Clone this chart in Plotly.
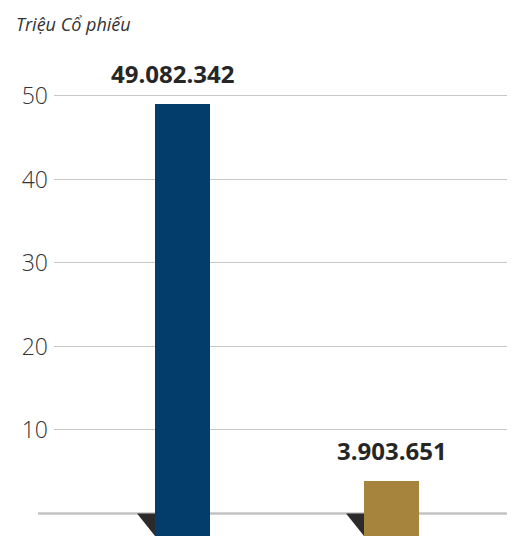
import plotly.graph_objects as go

# ---- data ----
categories = ["Cổ phiếu A", "Cổ phiếu B"]
values = [49.082342, 3.903651]          # triệu cổ phiếu
value_labels = ["49.082.342", "3.903.651"]
bar_colors = ["#033d6c", "#a6843e"]
tick_vals = [10, 20, 30, 40, 50]
y_title = "Triệu Cổ phiếu"

# ---- layout constants ----
W, H = 513, 536
PL, PR, PT, PB = 54, 507, 50, 536
x_pos = [0, 1]
bar_w = 0.263
x_range = [-0.6148, 1.5526]
y_min, y_max = -2.695, 55.5

fig = go.Figure()
fig.add_trace(go.Bar(
    x=x_pos,
    y=[v - y_min for v in values],
    base=[y_min] * len(values),
    width=bar_w,
    marker=dict(color=bar_colors, line=dict(width=0)),
    hoverinfo="skip",
    showlegend=False,
))

shapes = []
# baseline
shapes.append(dict(type="line", xref="paper", yref="y", x0=(38 - PL) / (PR - PL), x1=1.0, y0=0, y1=0,
                   line=dict(color="#c3c3c3", width=2.5), layer="below"))
# shadow triangles at bar foot
tri_w = 0.086
for xp in x_pos:
    xl = xp - bar_w / 2
    shapes.append(dict(type="path", xref="x", yref="y",
                       path=f"M {xl - tri_w} 0 L {xl} 0 L {xl} {y_min} Z",
                       fillcolor="#2b2b2b", line=dict(width=0), layer="below"))

annotations = []
xshifts = [-10, 0]
for xp, v, lab, xs in zip(x_pos, values, value_labels, xshifts):
    annotations.append(dict(x=xp, y=v, xref="x", yref="y", text=f"<b>{lab}</b>",
                            showarrow=False, yanchor="bottom", xanchor="center",
                            yshift=12, xshift=xs,
                            font=dict(family="Open Sans", size=24, color="#262626")))
annotations.append(dict(x=(14 - PL) / (PR - PL), y=(PB - 38) / (PB - PT), xref="paper", yref="paper",
                        text=f"<i>{y_title}</i>", showarrow=False,
                        xanchor="left", yanchor="bottom",
                        font=dict(family="Open Sans", size=18, color="#333333")))

fig.update_layout(
    width=W, height=H,
    margin=dict(l=PL, r=W - PR, t=PT, b=H - PB, pad=0),
    paper_bgcolor="white", plot_bgcolor="white",
    shapes=shapes, annotations=annotations,
    bargap=0,
    xaxis=dict(range=x_range, showgrid=False, zeroline=False, showticklabels=False,
               showline=False, fixedrange=True),
    yaxis=dict(range=[y_min, y_max], tickvals=tick_vals, ticktext=[str(t) for t in tick_vals],
               showgrid=True, gridcolor="#c8c8c8", gridwidth=1, zeroline=False,
               showline=False, ticks="", ticklabelstandoff=5,
               tickfont=dict(family="Open Sans", size=23, color="#333333", weight=300)),
)

fig.write_html("out.html")
